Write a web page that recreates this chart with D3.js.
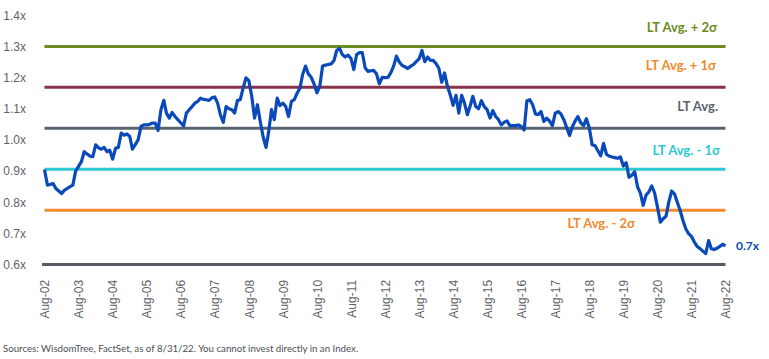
<!DOCTYPE html>
<html>
<head>
<meta charset="utf-8">
<script src="https://cdn.jsdelivr.net/npm/d3@7"></script>
<style>
  body { margin: 0; background: #fff; }
  svg { font-family: Lato, "Open Sans", sans-serif; }
</style>
</head>
<body>
<div id="chart"></div>
<script>
var startMonth = "2002-08"
var yTicks = [0.6, 0.7, 0.8, 0.9, 1.0, 1.1, 1.2, 1.3, 1.4]
var xTickYears = [2002, 2003, 2004, 2005, 2006, 2007, 2008, 2009, 2010, 2011, 2012, 2013, 2014, 2015, 2016, 2017, 2018, 2019, 2020, 2021, 2022]

// monthly forward P/E ratio, Aug-02 .. Aug-22
var peValues = [
    0.905, 0.855, 0.857, 0.860, 0.844, 0.836, 0.828, 0.838, 0.844, 0.850, 0.855, 0.900,
    0.915, 0.930, 0.962, 0.955, 0.948, 0.946, 0.984, 0.975, 0.970, 0.976, 0.962, 0.967,
    0.938, 0.973, 0.976, 1.022, 1.015, 1.019, 1.011, 0.970, 0.985, 1.000, 1.043, 1.048,
    1.048, 1.050, 1.054, 1.054, 1.030, 1.097, 1.127, 1.086, 1.070, 1.088, 1.075, 1.065,
    1.055, 1.045, 1.086, 1.097, 1.107, 1.118, 1.124, 1.134, 1.130, 1.129, 1.127, 1.135,
    1.138, 1.118, 1.080, 1.056, 1.107, 1.100, 1.097, 1.086, 1.127, 1.129, 1.167, 1.199,
    1.190, 1.140, 1.070, 1.113, 1.060, 1.010, 0.976, 1.025, 1.097, 1.065, 1.134, 1.110,
    1.118, 1.107, 1.075, 1.124, 1.129, 1.150, 1.167, 1.210, 1.237, 1.212, 1.201, 1.180,
    1.151, 1.172, 1.237, 1.240, 1.242, 1.244, 1.255, 1.287, 1.294, 1.274, 1.266, 1.272,
    1.262, 1.226, 1.274, 1.280, 1.280, 1.231, 1.220, 1.222, 1.223, 1.212, 1.180, 1.201,
    1.200, 1.201, 1.215, 1.237, 1.269, 1.250, 1.239, 1.235, 1.229, 1.236, 1.242, 1.251,
    1.260, 1.287, 1.251, 1.266, 1.255, 1.255, 1.244, 1.230, 1.185, 1.215, 1.172, 1.145,
    1.111, 1.143, 1.086, 1.143, 1.118, 1.081, 1.110, 1.140, 1.107, 1.100, 1.126, 1.107,
    1.097, 1.070, 1.094, 1.075, 1.065, 1.048, 1.057, 1.061, 1.046, 1.046, 1.046, 1.048,
    1.043, 1.032, 1.126, 1.129, 1.113, 1.083, 1.082, 1.091, 1.059, 1.070, 1.060, 1.046,
    1.086, 1.091, 1.083, 1.065, 1.040, 1.014, 1.043, 1.060, 1.075, 1.055, 1.046, 1.068,
    1.038, 0.984, 0.982, 0.965, 0.949, 0.989, 0.954, 0.948, 0.945, 0.943, 0.941, 0.945,
    0.916, 0.927, 0.880, 0.887, 0.898, 0.849, 0.828, 0.790, 0.823, 0.833, 0.852, 0.830,
    0.785, 0.736, 0.747, 0.755, 0.801, 0.836, 0.826, 0.801, 0.774, 0.742, 0.715, 0.699,
    0.690, 0.672, 0.658, 0.651, 0.643, 0.635, 0.677, 0.651, 0.648, 0.652, 0.658, 0.665,
    0.660
]

var bandNames = ["LT Avg. + 2σ", "LT Avg. + 1σ", "LT Avg.", "LT Avg. - 1σ", "LT Avg. - 2σ"]
var bandLevels = [1.300, 1.169, 1.037, 0.906, 0.774]
var bandLineColors = ["#6b8c21", "#8a3049", "#5b6570", "#2ec9d1", "#f28a2e"]
var bandTextColors = ["#6b8c21", "#f28a2e", "#5b6570", "#2ec9d1", "#f28a2e"]

var lastLabel = "0.7x"
var sourceText = "Sources: WisdomTree, FactSet, as of 8/31/22. You cannot invest directly in an Index."

var width = 769,
    height = 359,
    left = 44.5,
    right = 725.5

var parseMonth = d3.timeParse("%Y-%m")
var t0 = parseMonth(startMonth)

var datos = peValues.map(function (v, i) {
    return { fecha: d3.timeMonth.offset(t0, i), pe: v }
})

var x = d3.scaleTime()
    .domain([t0, datos[datos.length - 1].fecha])
    .range([left, right])

var y = d3.scaleLinear()
    .domain([0.6, 1.4])
    .range([264.5, 15.3])

var svg = d3.select("#chart").append("svg")
    .attr("width", width)
    .attr("height", height)

// y axis labels
var yAxis = d3.axisLeft(y)
    .tickValues(yTicks)
    .tickSize(0)
    .tickPadding(left - 26)
    .tickFormat(function (d) { return d.toFixed(1) + "x" })

svg.append("g")
    .attr("transform", "translate(" + left + ",0)")
    .call(yAxis)
    .call(function (g) { g.select(".domain").remove() })
    .selectAll("text")
    .attr("fill", "#5f6368")
    .style("font-size", "12px")

// x axis labels
var xAxis = d3.axisBottom(x)
    .tickValues(xTickYears.map(function (yr) { return new Date(yr, 7, 1) }))
    .tickSize(0)
    .tickFormat(d3.timeFormat("%b-%y"))

svg.append("g")
    .attr("transform", "translate(0," + y(0.6) + ")")
    .call(xAxis)
    .call(function (g) { g.select(".domain").remove() })
    .selectAll("text")
    .attr("fill", "#5f6368")
    .style("font-size", "12px")
    .style("text-anchor", "end")
    .attr("dx", "-0.45em")
    .attr("dy", "0.35em")
    .attr("y", 0)
    .attr("x", -10)
    .attr("transform", "rotate(-90)")

// bottom base line
svg.append("line")
    .attr("x1", left - 2.5)
    .attr("x2", right)
    .attr("y1", y(0.6))
    .attr("y2", y(0.6))
    .attr("stroke", "#565c63")
    .attr("stroke-width", 3)

// average and sigma bands
svg.selectAll(".band")
    .data(bandLevels)
    .enter().append("line")
    .attr("class", "band")
    .attr("x1", left)
    .attr("x2", right)
    .attr("y1", function (d) { return y(d) })
    .attr("y2", function (d) { return y(d) })
    .attr("stroke", function (d, i) { return bandLineColors[i] })
    .attr("stroke-width", 3)

var labelPos = [
    { x: 717, dy: -14 },
    { x: 716, dy: -17 },
    { x: 718, dy: -17 },
    { x: 720, dy: -14 },
    { x: 635, dy: 18 }
]

svg.selectAll(".bandLabel")
    .data(bandNames)
    .enter().append("text")
    .attr("class", "bandLabel")
    .attr("x", function (d, i) { return labelPos[i].x })
    .attr("y", function (d, i) { return y(bandLevels[i]) + labelPos[i].dy })
    .attr("text-anchor", "end")
    .attr("fill", function (d, i) { return bandTextColors[i] })
    .style("font-size", "13px")
    .style("font-weight", "bold")
    .text(function (d) { return d })

// main series
var linea = d3.line()
    .x(function (d) { return x(d.fecha) })
    .y(function (d) { return y(d.pe) })
    .curve(d3.curveLinear)

svg.append("path")
    .datum(datos)
    .attr("fill", "none")
    .attr("stroke", "#0a49b9")
    .attr("stroke-width", 3.2)
    .attr("stroke-linejoin", "round")
    .attr("d", linea)

svg.append("text")
    .attr("x", 736)
    .attr("y", y(datos[datos.length - 1].pe) + 4)
    .attr("fill", "#0a49b9")
    .style("font-size", "12px")
    .style("font-weight", "bold")
    .text(lastLabel)

svg.append("text")
    .attr("x", 3)
    .attr("y", 352)
    .attr("fill", "#4a4f55")
    .style("font-size", "9.7px")
    .text(sourceText)
</script>
</body>
</html>
